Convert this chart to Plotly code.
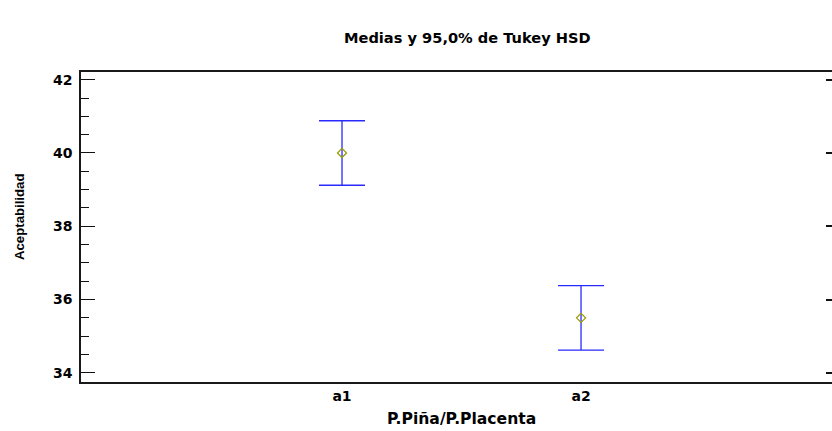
import plotly.graph_objects as go

# Group means with 95% Tukey HSD intervals
groups = ["a1", "a2"]
group_pos = [1, 2]
means = [40.0, 35.5]
half_width = [0.88, 0.88]

y_ticks = [34, 36, 38, 40, 42]
y_range = [33.75, 42.21]
x_range = [-0.092, 3.05]

AX_FONT = "DejaVu Sans"
TXT = "#000000"

fig = go.Figure()

fig.add_trace(go.Scatter(
    x=group_pos,
    y=means,
    mode="markers",
    marker=dict(symbol="diamond-open", size=7, color="#9a9a00", line=dict(width=1.2)),
    error_y=dict(type="data", array=half_width, symmetric=True,
                 color="#2a2aff", thickness=1.3, width=23),
    showlegend=False,
    hoverinfo="skip",
))

# invisible trace so the right-hand axis is drawn
fig.add_trace(go.Scatter(x=[None], y=[None], yaxis="y2", showlegend=False, hoverinfo="skip"))

fig.update_layout(
    width=832,
    height=431,
    margin=dict(l=81, r=0, t=72, b=49),
    paper_bgcolor="white",
    plot_bgcolor="white",
    xaxis=dict(
        range=x_range,
        tickvals=group_pos,
        ticktext=groups,
        showgrid=False,
        zeroline=False,
        ticks="",
        showline=True,
        linecolor="#1a1a1a",
        linewidth=2,
        mirror=True,
        tickfont=dict(family=AX_FONT, size=14, color=TXT, weight="bold"),
        fixedrange=True,
    ),
    yaxis=dict(
        range=y_range,
        tickvals=y_ticks,
        showgrid=False,
        zeroline=False,
        ticks="inside",
        ticklen=14,
        tickwidth=1.2,
        tickcolor="#111111",
        minor=dict(dtick=0.5, ticks="inside", ticklen=8, tickwidth=1.2, tickcolor="#111111"),
        showline=True,
        linecolor="#1a1a1a",
        linewidth=1.6,
        mirror=False,
        ticklabelstandoff=4,
        tickfont=dict(family=AX_FONT, size=14, color=TXT, weight="bold"),
        fixedrange=True,
    ),
    yaxis2=dict(
        range=y_range,
        overlaying="y",
        side="right",
        anchor="x",
        tickvals=y_ticks,
        showticklabels=False,
        showgrid=False,
        zeroline=False,
        ticks="inside",
        ticklen=6,
        tickwidth=1.6,
        tickcolor="#111111",
        showline=False,
        fixedrange=True,
    ),
    annotations=[
        dict(text="Medias y 95,0% de Tukey HSD", xref="paper", yref="paper",
             x=(468 - 81) / 751, y=1 + (72 - 37) / 310, xanchor="center", yanchor="middle",
             showarrow=False, font=dict(family=AX_FONT, size=14.6, color=TXT, weight="bold")),
        dict(text="P.Piña/P.Placenta", xref="paper", yref="paper",
             x=(461 - 81) / 751, y=-(419 - 382) / 310, xanchor="center", yanchor="middle",
             showarrow=False, font=dict(family=AX_FONT, size=15.6, color=TXT, weight="bold")),
        dict(text="Aceptabilidad", xref="paper", yref="paper", textangle=-90,
             x=(19 - 81) / 751, y=(382 - 217) / 310, xanchor="center", yanchor="middle",
             showarrow=False, font=dict(family="Liberation Sans", size=13.2, color=TXT, weight="bold")),
    ],
)

fig.write_html("out.html", config={"displayModeBar": False})
